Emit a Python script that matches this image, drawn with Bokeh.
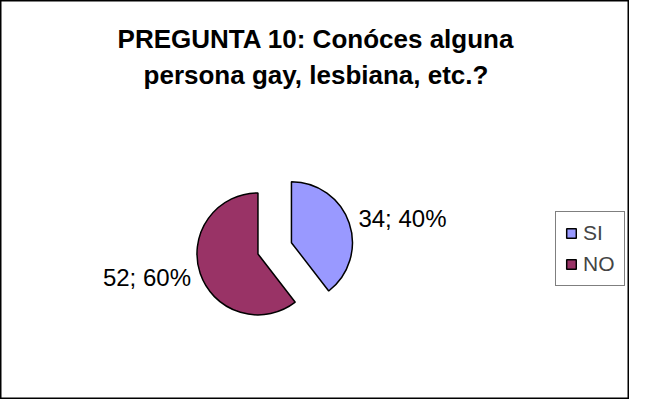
import math
from bokeh.plotting import figure
from bokeh.models import Range1d, Label, Legend, LegendItem, ColumnDataSource
from bokeh.core.properties import value
from bokeh.embed import file_html
from bokeh.resources import INLINE

# ---- data ----
title_lines = ["PREGUNTA 10: Conóces alguna", "persona gay, lesbiana, etc.?"]
categories = ["SI", "NO"]
counts = [34, 52]
percents = [40, 60]
colors = ["#9999FF", "#993366"]

# ---- layout (reference-pixel coordinate space) ----
W, H = 629, 399
FONT = "Liberation Sans"
cx, cy = 281.0, 257.5        # pie centre
explode = 18.0               # explosion distance
radius_px = 61               # screen radius
label_r = 72.0

p = figure(width=W, height=H, output_backend="svg", toolbar_location=None,
           x_range=Range1d(2, 642), y_range=Range1d(414, 1), min_border=0,
           x_axis_location=None, y_axis_location=None)
p.grid.visible = False
p.outline_line_color = "black"
p.outline_line_width = 2
p.background_fill_color = "white"
p.border_fill_color = "white"

total = sum(counts)
xs, ys, starts, ends, texts, lx, ly, align = [], [], [], [], [], [], [], []
cum = 0.0
for c, v, pc in zip(categories, counts, percents):
    f0 = cum / total
    cum += v
    f1 = cum / total
    a_start = math.radians(90 - f1 * 360)
    a_end = math.radians(90 - f0 * 360)
    mid = (a_start + a_end) / 2
    vx = cx + explode * math.cos(mid)
    vy = cy - explode * math.sin(mid)
    xs.append(vx); ys.append(vy); starts.append(a_start); ends.append(a_end)
    texts.append(f"{v}; {pc}%")
    lx.append(vx + label_r * math.cos(mid))
    ly.append(vy - label_r * math.sin(mid) - 4 * math.sin(mid))
    align.append("left" if math.cos(mid) >= 0 else "right")

src = ColumnDataSource(dict(x=xs, y=ys, start=starts, end=ends, color=colors,
                            label=categories))
wr = p.wedge(x="x", y="y", radius=radius_px, radius_units="screen",
             start_angle="start", end_angle="end", fill_color="color",
             line_color="black", line_width=1.5, source=src)

lsrc = ColumnDataSource(dict(x=lx, y=ly, t=texts, a=align))
p.text(x="x", y="y", text="t", text_align="a", text_baseline="middle",
       text_font=value(FONT), text_font_size="24px", text_color="black",
       source=lsrc)

# title
for i, line in enumerate(title_lines):
    p.add_layout(Label(x=323, y=41 + i * 37, text=line, text_align="center",
                       text_baseline="alphabetic", text_font=FONT,
                       text_font_size="26px", text_font_style="bold",
                       text_color="black"))

legend = Legend(items=[LegendItem(label=c, renderers=[wr], index=i)
                       for i, c in enumerate(categories)],
                location=(555, 113), orientation="vertical")
legend.border_line_color = "black"
legend.border_line_width = 1.5
legend.background_fill_color = "white"
legend.background_fill_alpha = 1
legend.label_text_font = FONT
legend.label_text_font_size = "21px"
legend.glyph_width = 12
legend.glyph_height = 12
legend.label_standoff = 6
legend.label_height = 22
legend.padding = 9
legend.spacing = 7
legend.margin = 0
p.add_layout(legend)

open("out.html", "w").write(file_html(p, INLINE))
